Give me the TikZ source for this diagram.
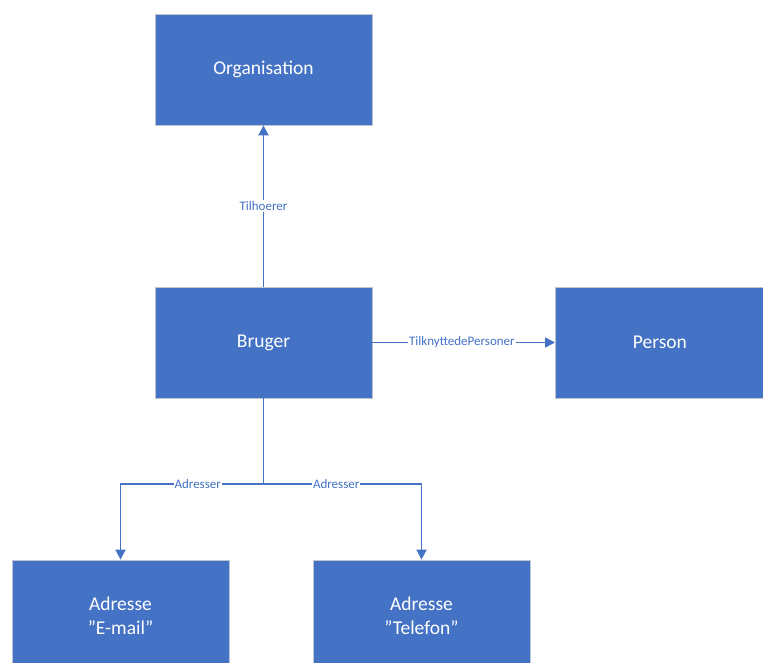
\documentclass[tikz,border=0pt]{standalone}
\usepackage{fontspec}
\setmainfont{Carlito}
\usetikzlibrary{arrows.meta}
\definecolor{boxblue}{HTML}{4472C4}
\definecolor{boxedge}{HTML}{C0C6D0}
\begin{document}
\begin{tikzpicture}[x=1pt,y=-1pt,
  entity/.style={draw=boxedge,line width=0.8pt,fill=boxblue,text=white,
    minimum width=217pt,minimum height=111pt,inner sep=0pt,align=center,
    font=\fontsize{19.5}{24}\selectfont},
  conn/.style={draw=boxblue,line width=1.8pt,-{Triangle[length=10pt,width=10pt]}},
  lab/.style={fill=white,text=boxblue,inner sep=1pt,font=\fontsize{13}{14}\selectfont}]
\useasboundingbox (0,0) rectangle (763,663);
\begin{scope}
\clip (0,0) rectangle (763,663);
\node[entity] (org) at (263.5,69.5) {Organisation};
\node[entity] (bru) at (263.5,342.5) {Bruger};
\node[entity,minimum width=213pt,anchor=west] (per) at (555,342.5) {\hspace*{-4pt}Person};
\node[entity] (ema) at (120.5,615.5) {Adresse\\”E-mail”};
\node[entity] (tel) at (421.5,615.5) {Adresse\\”Telefon”};
\end{scope}
\coordinate (j) at (263.5,484);
\coordinate (jl) at (ema.north |- j);
\coordinate (jr) at (tel.north |- j);
\draw[conn] (bru.north) -- node[lab,pos=0.5]{Tilhoerer} (org.south);
\draw[conn] (bru.east) -- node[lab,pos=0.49]{TilknyttedePersoner} (per.west);
\draw[draw=boxblue,line width=1.8pt] (bru.south) -- (j);
\draw[conn] (j) -- node[lab,pos=0.46]{Adresser} (jl) -- (ema.north);
\draw[conn] (j) -- node[lab,pos=0.46]{Adresser} (jr) -- (tel.north);
\end{tikzpicture}
\end{document}
